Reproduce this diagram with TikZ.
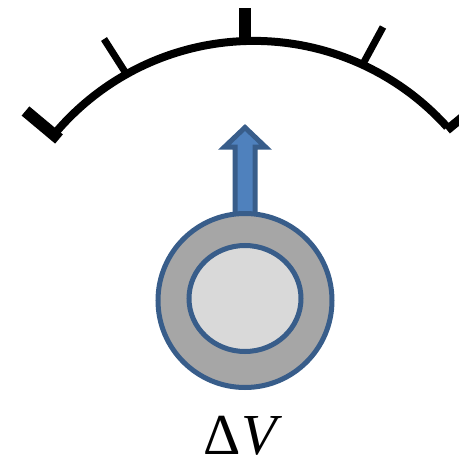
\documentclass[tikz,border=0pt]{standalone}
\usepackage{fontspec}
\usetikzlibrary{shapes.geometric}
\setmainfont{Liberation Serif}
\definecolor{edgeblue}{HTML}{385D8A}
\definecolor{arrowblue}{HTML}{4F81BD}
\definecolor{ringgray}{HTML}{A6A6A6}
\definecolor{coregray}{HTML}{D9D9D9}
\tikzset{
  px/.style={x=1pt,y=-1pt},
  scaleline/.style={draw=black,line width=8pt},
  tick/.style={draw=black,line cap=butt},
  bluepart/.style={draw=edgeblue,line width=5pt,line join=miter}
}
\begin{document}
\begin{tikzpicture}[px]
\useasboundingbox (0,0) rectangle (459,458);
\begin{scope}
\clip (0,0) rectangle (459,458);
\coordinate (scaleL) at (57,131);
\draw[scaleline] (scaleL) arc[start angle=220.8,end angle=318.04,radius=260];
\draw[tick,line width=12pt] (59,139) -- (25.5,111);
\draw[tick,line width=7pt] (127,75) -- (104,39);
\draw[tick,line width=12pt] (245,43) -- (245,8);
\draw[tick,line width=7pt] (364,62) -- (383,27);
\draw[tick,line width=9pt] (447,130) -- (470,111);
\end{scope}
\draw[bluepart,fill=arrowblue,miter limit=4] (235,216) -- (235,147) -- (224.5,147) -- (245,127.5) -- (265.5,147) -- (255,147) -- (255,216) -- cycle;
\node[circle,bluepart,fill=ringgray,minimum size=174pt,inner sep=0pt,outer sep=0pt] (ring) at (245,300.5) {};
\node[ellipse,bluepart,fill=coregray,minimum width=112pt,minimum height=106pt,inner sep=0pt,outer sep=0pt] (core) at (245,298.5) {};
\node[anchor=base,inner sep=0pt,font=\fontsize{58}{60}\selectfont] (label) at (243,454) {Δ\textit{V}};
\end{tikzpicture}
\end{document}
